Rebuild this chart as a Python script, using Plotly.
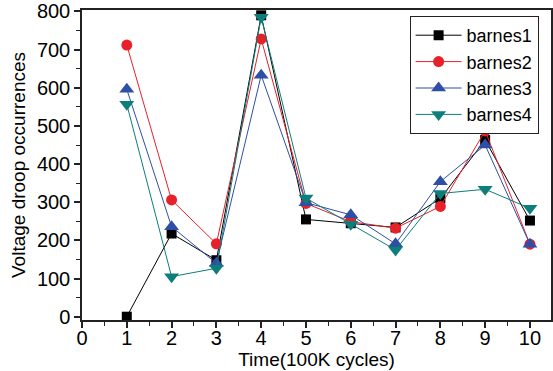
import plotly.graph_objects as go

x = [1, 2, 3, 4, 5, 6, 7, 8, 9, 10]
barnes1 = [0, 218, 148, 790, 255, 245, 234, 310, 463, 252]
barnes2 = [712, 306, 191, 728, 297, 249, 232, 289, 487, 190]
barnes3 = [596, 236, 140, 633, 299, 267, 191, 354, 450, 190]
barnes4 = [557, 105, 127, 785, 311, 242, 175, 323, 334, 284]

names = ["barnes1", "barnes2", "barnes3", "barnes4"]
series = [barnes1, barnes2, barnes3, barnes4]
colors = ["#000000", "#E8202A", "#2F4FA6", "#0E7E7B"]
symbols = ["square", "circle", "triangle-up", "triangle-down"]
sizes = [10, 11, 13, 13]

fig = go.Figure()
for n, s, c, sym, sz in zip(names, series, colors, symbols, sizes):
    fig.add_trace(go.Scatter(
        x=x, y=s, name=n, mode="lines+markers",
        line=dict(color=c, width=1),
        marker=dict(symbol=sym, size=sz, color=c, line=dict(width=0)),
    ))

font = "Arial, Liberation Sans, sans-serif"
fig.update_layout(
    width=553, height=371,
    margin=dict(l=82, r=0, t=10, b=51),
    paper_bgcolor="white", plot_bgcolor="white",
    font=dict(family=font, size=20, color="black"),
    showlegend=True,
    legend=dict(
        x=(411 - 82) / 471, xanchor="left", xref="paper",
        y=1 - (16 - 10) / 310, yanchor="top",
        bordercolor="#222222", borderwidth=1, bgcolor="white",
        font=dict(family=font, size=18, color="black"),
        tracegroupgap=0, itemsizing="trace", itemwidth=46,
    ),
    xaxis=dict(
        range=[0, 10.47], tickmode="array", tickvals=list(range(0, 11)),
        ticks="outside", ticklen=6, tickwidth=1.5, tickcolor="#222222",
        showline=True, linecolor="#222222", linewidth=1.5, mirror=True,
        showgrid=False, zeroline=False,
        minor=dict(dtick=0.5, ticks="outside", ticklen=4, tickwidth=1.2, tickcolor="#222222"),
        title=dict(text="Time(100K cycles)", font=dict(size=19), standoff=0),
        tickfont=dict(size=20), ticklabelstandoff=-7,
    ),
    yaxis=dict(
        range=[-8.65, 803.9], tickmode="array", tickvals=[0, 100, 200, 300, 400, 500, 600, 700, 800],
        ticks="outside", ticklen=6, tickwidth=1.5, tickcolor="#222222",
        showline=True, linecolor="#222222", linewidth=1.5, mirror=True,
        showgrid=False, zeroline=False,
        minor=dict(dtick=50, ticks="outside", ticklen=4, tickwidth=1.2, tickcolor="#222222"),
        title=dict(text="Voltage droop occurrences", font=dict(size=19), standoff=6),
        tickfont=dict(size=20),
    ),
)

fig.write_html("out.html")
